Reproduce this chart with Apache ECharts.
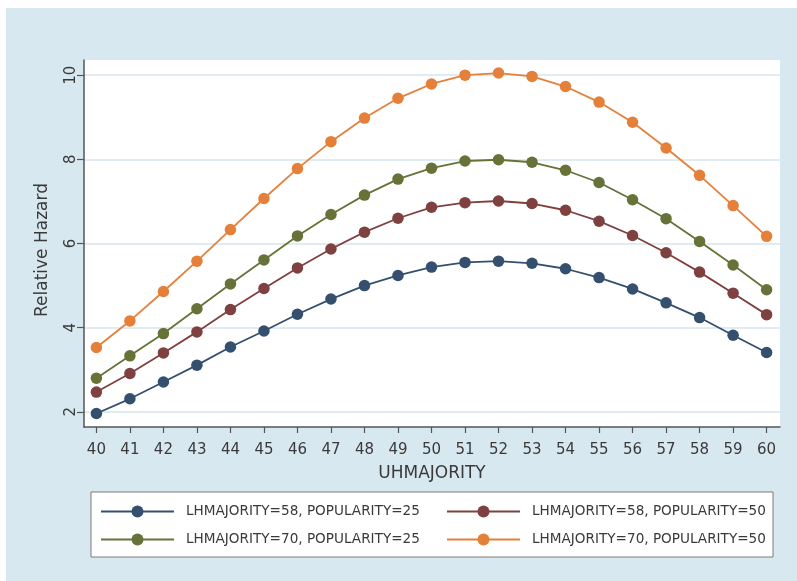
<!DOCTYPE html>
<html>
<head>
<meta charset="utf-8">
<script src="https://cdn.jsdelivr.net/npm/echarts@6/dist/echarts.min.js"></script>
<style>
  html, body { margin: 0; padding: 0; background: #ffffff; }
  #chart { width: 797px; height: 581px; }
</style>
</head>
<body>
<div id="chart"></div>
<script>
// UHMAJORITY values on the x axis
const uhMajority = [40, 41, 42, 43, 44, 45, 46, 47, 48, 49, 50,
                    51, 52, 53, 54, 55, 56, 57, 58, 59, 60];

// Relative hazard for each LHMAJORITY / POPULARITY combination
const lh58pop25 = [1.96, 2.31, 2.71, 3.11, 3.54, 3.92, 4.32, 4.68, 5.00, 5.24, 5.44,
                   5.55, 5.58, 5.53, 5.40, 5.19, 4.92, 4.59, 4.24, 3.82, 3.41];
const lh58pop50 = [2.47, 2.91, 3.40, 3.90, 4.43, 4.93, 5.42, 5.87, 6.27, 6.60, 6.86,
                   6.97, 7.01, 6.95, 6.79, 6.53, 6.19, 5.78, 5.32, 4.82, 4.31];
const lh70pop25 = [2.80, 3.33, 3.86, 4.45, 5.04, 5.61, 6.18, 6.69, 7.15, 7.53, 7.79,
                   7.96, 7.99, 7.93, 7.74, 7.45, 7.04, 6.59, 6.05, 5.49, 4.90];
const lh70pop50 = [3.53, 4.16, 4.86, 5.58, 6.33, 7.07, 7.78, 8.42, 8.98, 9.45, 9.79,
                   10.00, 10.05, 9.97, 9.73, 9.36, 8.88, 8.27, 7.62, 6.90, 6.17];

const seriesNames = [
  'LHMAJORITY=58, POPULARITY=25',
  'LHMAJORITY=58, POPULARITY=50',
  'LHMAJORITY=70, POPULARITY=25',
  'LHMAJORITY=70, POPULARITY=50'
];
const seriesValues = [lh58pop25, lh58pop50, lh70pop25, lh70pop50];
const seriesColors = ['#34506e', '#7f4040', '#667238', '#e5803a'];

const yTicks = [2, 4, 6, 8, 10];

const FONT = '"DejaVu Sans", sans-serif';
const TEXT = '#3a3a3a';

const chart = echarts.init(document.getElementById('chart'), null, { renderer: 'canvas' });

const series = seriesNames.map((name, i) => ({
  name: name,
  type: 'line',
  data: uhMajority.map((x, j) => [x, seriesValues[i][j]]),
  symbol: 'circle',
  symbolSize: 11.5,
  showSymbol: true,
  itemStyle: { color: seriesColors[i] },
  lineStyle: { color: seriesColors[i], width: 1.8 },
  emphasis: { disabled: true },
  animation: false,
  z: 3
}));

const legendCommon = {
  orient: 'vertical',
  top: 504,
  padding: 0,
  itemWidth: 73,
  itemHeight: 15,
  itemGap: 13,
  selectedMode: false,
  textStyle: { fontFamily: FONT, fontSize: 13.6, color: TEXT, lineHeight: 15, padding: [0, 0, 0, 7] }
};

chart.setOption({
  backgroundColor: '#ffffff',
  animation: false,
  graphic: [
    {
      type: 'rect', z: -10, silent: true,
      shape: { x: 6, y: 8, width: 791, height: 573 },
      style: { fill: '#d8e8f0' }
    },
    {
      type: 'rect', z: 1, silent: true,
      shape: { x: 91, y: 492, width: 682, height: 65 },
      style: { fill: '#ffffff', stroke: '#7a7a7a', lineWidth: 1 }
    }
  ],
  grid: {
    left: 84, top: 60, right: 17, bottom: 154,
    show: true, backgroundColor: '#ffffff', borderWidth: 0
  },
  xAxis: {
    type: 'value',
    min: 39.63, max: 60.4,
    name: 'UHMAJORITY',
    nameLocation: 'middle',
    nameGap: 38,
    nameTextStyle: { fontFamily: FONT, fontSize: 17, color: TEXT },
    axisLine: { show: true, lineStyle: { color: '#555555', width: 1.5 } },
    axisTick: { show: true, length: 6, customValues: uhMajority, lineStyle: { color: '#555555', width: 1.2 } },
    axisLabel: { customValues: uhMajority, margin: 16, fontFamily: FONT, fontSize: 15, color: TEXT },
    splitLine: { show: false }
  },
  yAxis: {
    type: 'value',
    min: 1.64, max: 10.36,
    name: 'Relative Hazard',
    nameLocation: 'middle',
    nameGap: 33,
    nameTextStyle: { fontFamily: FONT, fontSize: 17, color: TEXT, padding: [0, 13, 0, 0] },
    axisLine: { show: true, lineStyle: { color: '#555555', width: 1.5 } },
    axisTick: { show: true, length: 7, customValues: yTicks, lineStyle: { color: '#555555', width: 1.2 } },
    axisLabel: { customValues: yTicks, rotate: 90, margin: 5, fontFamily: FONT, fontSize: 15, color: TEXT },
    splitLine: { show: true, lineStyle: { color: '#d6e6ee', width: 1.5 } }
  },
  legend: [
    Object.assign({}, legendCommon, { left: 100, data: [seriesNames[0], seriesNames[2]] }),
    Object.assign({}, legendCommon, { left: 446, data: [seriesNames[1], seriesNames[3]] })
  ],
  series: series
});
</script>
</body>
</html>
